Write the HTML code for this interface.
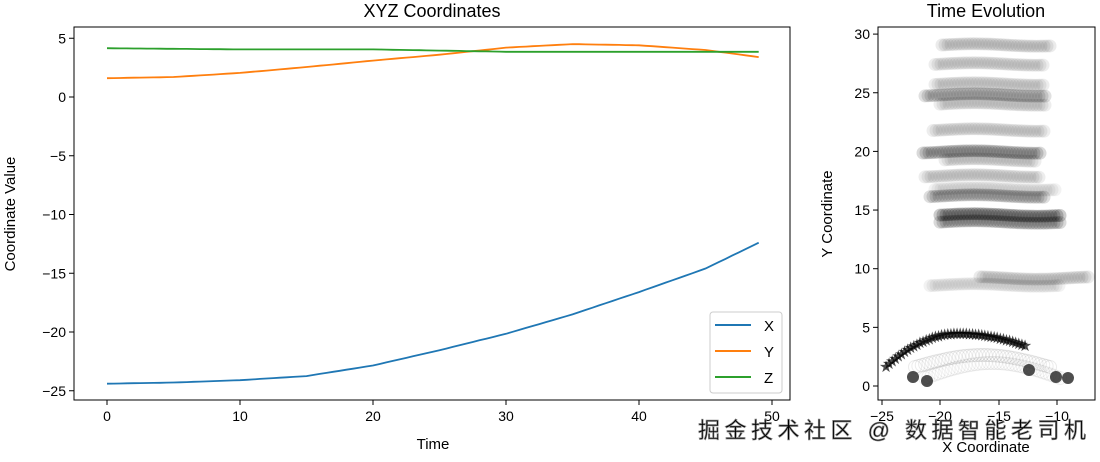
<!DOCTYPE html>
<html><head><meta charset="utf-8"><style>
body{margin:0;background:#fff;width:1100px;height:457px;overflow:hidden}
svg text{font-family:"Liberation Sans","DejaVu Sans",sans-serif;fill:#000}
</style></head><body>
<svg id="s" width="1100" height="457" xmlns="http://www.w3.org/2000/svg">
<defs><clipPath id="cr"><rect x="878" y="27" width="217" height="373"/></clipPath></defs>
<rect width="1100" height="457" fill="#fff"/>
<g id="right" clip-path="url(#cr)"></g>
<g id="lines" fill="none" stroke-width="1.8"></g>
<rect x="74" y="27" width="716" height="373" fill="none" stroke="#000" stroke-width="1"/>
<rect x="878" y="27" width="217" height="373" fill="none" stroke="#000" stroke-width="1"/>
<g id="ticks" font-size="14"></g>
<text x="432" y="17" font-size="18" text-anchor="middle">XYZ Coordinates</text>
<text x="986" y="17" font-size="18" text-anchor="middle">Time Evolution</text>
<text x="433" y="449" font-size="15" text-anchor="middle">Time</text>
<text transform="translate(15,214) rotate(-90)" font-size="15" text-anchor="middle">Coordinate Value</text>
<text x="986" y="452" font-size="15" text-anchor="middle">X Coordinate</text>
<text transform="translate(832,214) rotate(-90)" font-size="15" text-anchor="middle">Y Coordinate</text>
<rect x="710" y="312" width="72" height="81" rx="3" fill="#fff" fill-opacity="0.85" stroke="#ccc"/>
<line x1="715" x2="751" y1="325" y2="325" stroke="#1f77b4" stroke-width="2"/>
<line x1="715" x2="751" y1="351" y2="351" stroke="#ff7f0e" stroke-width="2"/>
<line x1="715" x2="751" y1="377" y2="377" stroke="#2ca02c" stroke-width="2"/>
<text x="764" y="331" font-size="15">X</text>
<text x="764" y="357" font-size="15">Y</text>
<text x="764" y="383" font-size="15">Z</text>
<text x="698" y="438" font-size="22" textLength="388" fill="#fff" stroke="#888" stroke-width="0.7" style="font-family:'Liberation Sans','Noto Sans CJK SC',sans-serif">掘金技术社区 @ 数据智能老司机</text>
</svg>
<script>
const NS="http://www.w3.org/2000/svg";
function el(p,t,a,txt){const e=document.createElementNS(NS,t);for(const k in a)e.setAttribute(k,a[k]);if(txt!==undefined)e.textContent=txt;p.appendChild(e);return e;}
const tk=document.getElementById('ticks');
for(let t=0;t<=50;t+=10){const x=107+t*13.3;el(tk,'line',{x1:x,x2:x,y1:400,y2:405,stroke:'#000'});el(tk,'text',{x:x,y:421,'text-anchor':'middle'},t);}
for(let v=5;v>=-25;v-=5){const y=97-v*11.75;el(tk,'line',{x1:69,x2:74,y1:y,y2:y,stroke:'#000'});el(tk,'text',{x:66,y:y+5,'text-anchor':'end'},v<0?'\u2212'+(-v):v);}
for(let v=0;v<=30;v+=5){const y=386-v*11.73;el(tk,'line',{x1:873,x2:878,y1:y,y2:y,stroke:'#000'});el(tk,'text',{x:870,y:y+5,'text-anchor':'end'},v);}
[[-25,882],[-20,940],[-15,999],[-10,1057]].forEach(([v,x])=>{el(tk,'line',{x1:x,x2:x,y1:400,y2:405,stroke:'#000'});el(tk,'text',{x:x,y:421,'text-anchor':'middle'},'\u2212'+(-v));});
function interp(pts,t){for(let i=0;i<pts.length-1;i++){if(t<=pts[i+1][0]){const a=pts[i],b=pts[i+1];const f=(t-a[0])/(b[0]-a[0]);return a[1]+f*(b[1]-a[1]);}}return pts[pts.length-1][1];}
const X=[[0,-24.4],[5,-24.3],[10,-24.1],[15,-23.75],[20,-22.85],[25,-21.55],[30,-20.15],[35,-18.5],[40,-16.6],[45,-14.6],[49,-12.4]];
const Y=[[0,1.6],[5,1.7],[10,2.05],[15,2.55],[20,3.1],[25,3.6],[30,4.2],[35,4.5],[40,4.4],[45,4.0],[49,3.4]];
const Z=[[0,4.15],[10,4.05],[20,4.05],[30,3.85],[40,3.85],[49,3.85]];
const lg=document.getElementById('lines');
[[X,'#1f77b4'],[Y,'#ff7f0e'],[Z,'#2ca02c']].forEach(([P,c])=>{let d='';for(let t=0;t<=49;t+=0.5){const x=107+t*13.3,y=97-interp(P,t)*11.75;d+=(d?'L':'M')+x.toFixed(1)+','+y.toFixed(1);}el(lg,'path',{d:d,stroke:c});});
const R=document.getElementById('right');
const bands=[[45,942,1050,.08],[64,935,1045,.07],[84,935,1045,.07],[95,925,1045,.12],[104,940,1045,.07],[130,933,1045,.07],[152,923,1040,.15],[160,945,1035,.07],[176,925,1040,.07],[189,935,1055,.05],[196,930,1045,.13],[215,940,1060,.2],[222,940,1060,.15],[278,980,1090,.08],[285,930,1060,.05]];
bands.forEach(([y,x1,x2,o])=>{for(let x=x1;x<=x2;x+=3){el(R,'circle',{cx:x,cy:y+Math.sin(x/20)*1.2,r:6.5,fill:'#000','fill-opacity':o});}});
for(let i=0;i<=40;i++){const f=i/40;const x=915+f*135;const y=367-Math.sin(f*Math.PI)*12;el(R,'circle',{cx:x,cy:y,r:6.5,fill:'none',stroke:'#000','stroke-opacity':.08});
const y2=378-Math.sin(f*Math.PI)*15;el(R,'circle',{cx:x+10,cy:y2,r:6.5,fill:'none',stroke:'#000','stroke-opacity':.06});}
[[913,377],[927,381],[1029,370],[1056,377],[1068,378]].forEach(([x,y])=>el(R,'circle',{cx:x,cy:y,r:6,fill:'#222','fill-opacity':.8}));
// star arc: quadratic-ish through (886,366),(960,333),(1025,345)
for(let i=0;i<=45;i++){const f=i/45;const x=886+f*139;const u=(x-958)/72;const y=333+ (x<958?33*u*u:12*( (x-958)/67 )*((x-958)/67));el(R,'text',{x:x,y:y+6,'font-size':'16','text-anchor':'middle',fill:'#000','fill-opacity':.7},'\u2605');}
</script>
</body></html>
